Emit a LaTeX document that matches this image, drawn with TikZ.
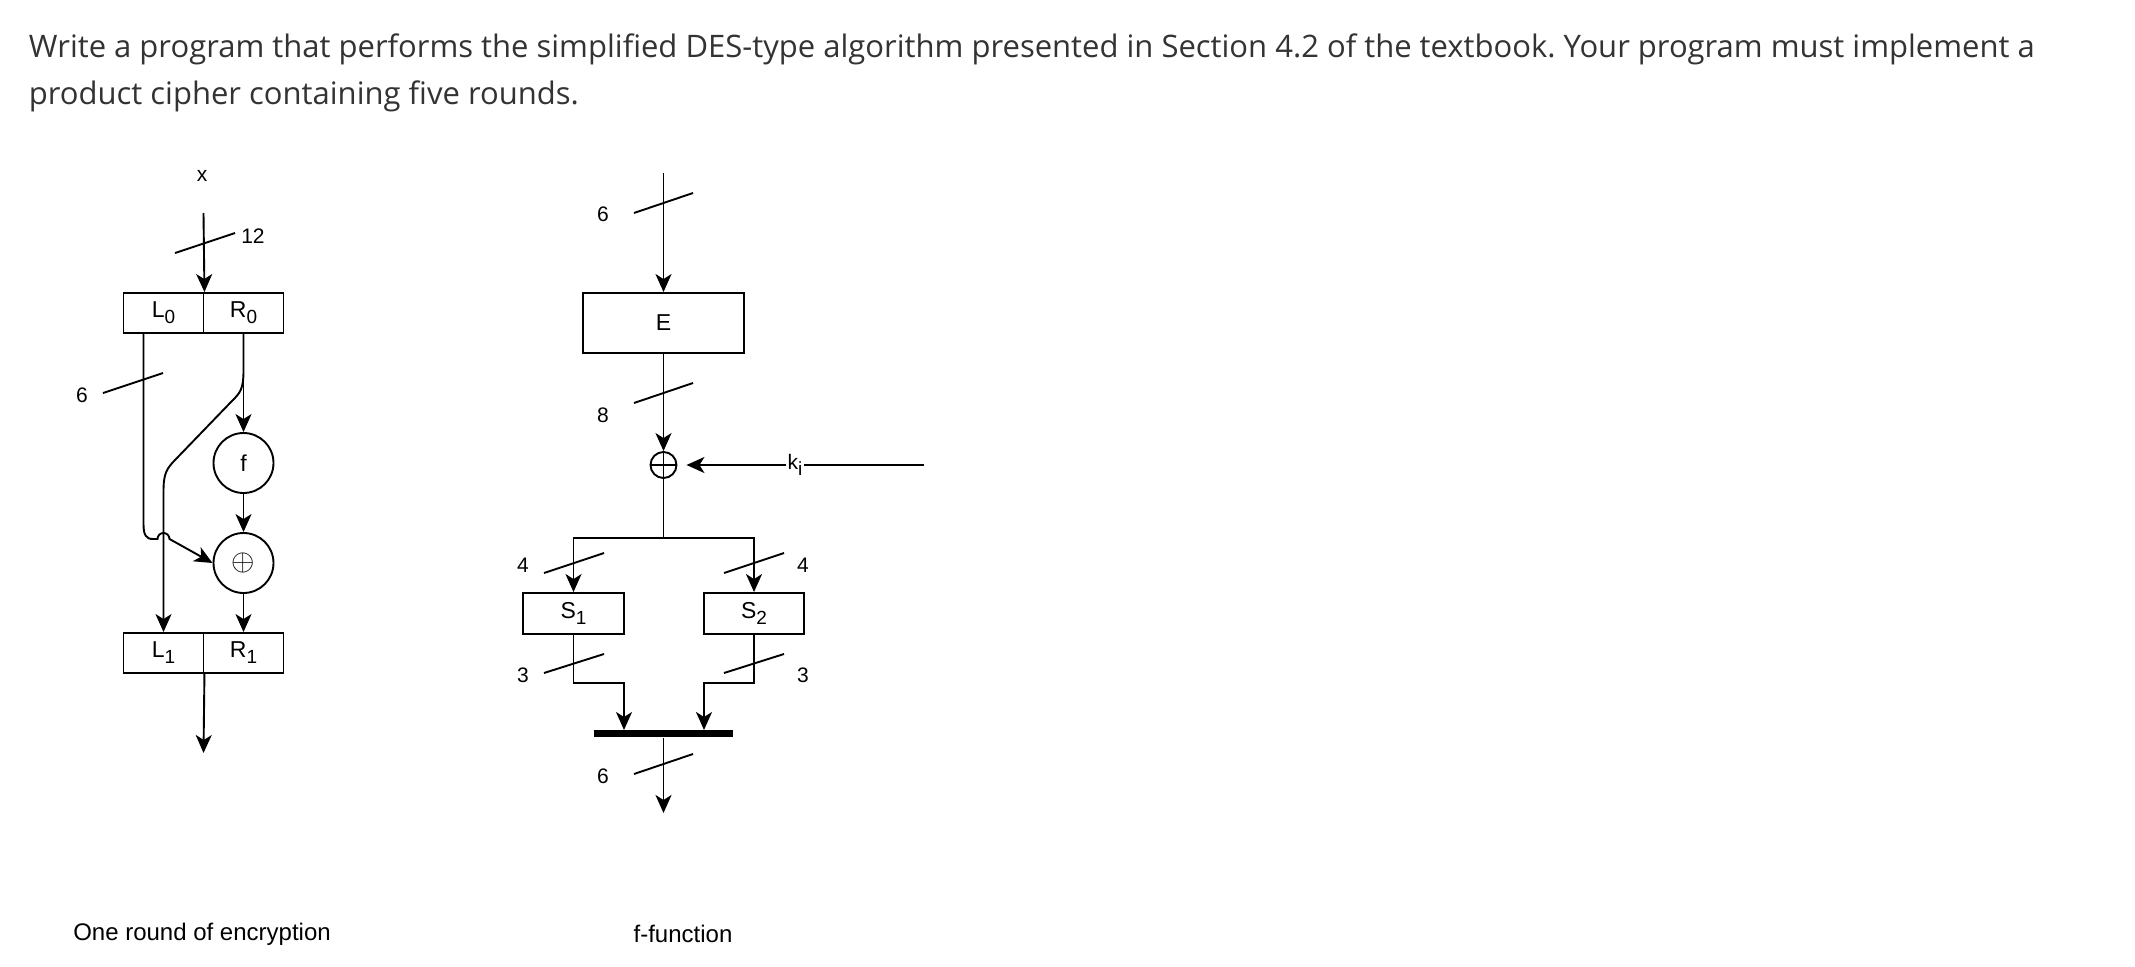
\documentclass[tikz,border=0pt]{standalone}
\usepackage{fontspec}
\setmainfont{Liberation Sans}
\newfontfamily\parafont{Open Sans}
\usetikzlibrary{arrows.meta}
\definecolor{txtgray}{HTML}{333333}
\newcommand\mysub[1]{\raisebox{-6pt}{\fontsize{19}{19}\selectfont #1}}
\frenchspacing
\begin{document}
\begin{tikzpicture}[x=1pt,y=-1pt,line width=1.9pt,
  arr/.style={-{Stealth[length=18pt,width=16pt,inset=5pt]}},
  lbl/.style={font=\fontsize{21}{21}\selectfont,inner sep=0pt},
  para/.style={font=\parafont\fontsize{31}{31}\selectfont,text=txtgray,inner sep=0pt,anchor=base west},
  capt/.style={font=\fontsize{24}{24}\selectfont,inner sep=0pt},
  halfbox/.style={draw,minimum width=80pt,minimum height=40pt,inner sep=0pt,font=\fontsize{23}{23}\selectfont},
  sbox/.style={draw,minimum height=41pt,inner sep=0pt,font=\fontsize{23}{23}\selectfont},
  circ/.style={draw,circle,minimum size=60pt,inner sep=0pt,font=\fontsize{23}{23}\selectfont},
  xorc/.style={draw,circle,minimum size=26pt,inner sep=0pt},
  tickln/.style={line width=1.9pt}]
\useasboundingbox (0,0) rectangle (2135,966);

% paragraph
\node[para] (p1) at (28,58) {Write a program that performs the simplified DES-type algorithm presented in Section 4.2 of the textbook. Your program must implement a};
\node[para] (p2) at (28,104) {product cipher containing five rounds.};

% ---------------- left: one round ----------------
\node[lbl] (xl) at (202,176) {x};
\coordinate (xin) at (203.5,213);
\node[halfbox] (L0) at (163.5,313) {L\mysub{0}};
\node[halfbox] (R0) at (243.5,313) {R\mysub{0}};
\node[circ] (f) at (243.5,463) {f};
\node[circ] (x1) at (243.5,563) {\fontsize{21}{21}\selectfont\scalebox{1.45}{$\oplus$}};
\node[halfbox] (L1) at (163.5,653) {L\mysub{1}};
\node[halfbox] (R1) at (243.5,653) {R\mysub{1}};
\coordinate (out1) at (203.5,753);
\coordinate (lstart) at (143.5,333);

\draw[arr] (xin) -- (L0.north east);
\draw[tickln] (175,253) -- (235,233);
\node[lbl] (n12) at (253,236) {12};

\draw[arr] (R0.south) -- (f.north);
\draw[arr] (f.south) -- (x1.north);
\draw[arr] (x1.south) -- (R1.north);
\draw[arr] (L1.south east) -- (out1);

% R0 -> L1 (swap)
\draw[arr] (R0.south) -- (243.5,370) .. controls (243.5,390) and (240,393) .. (231,402)
  -- (176,459) .. controls (166,469) and (163.5,474) .. (163.5,492) -- (L1.north);

% L0 -> xor (with hop)
\draw[arr] (lstart) -- (143.5,524) .. controls (143.5,535) and (146,539) .. (153,539)
  -- (157.5,539) arc[start angle=180,end angle=360,radius=6] -- (x1.west);

\draw[tickln] (103,393) -- (163,373);
\node[lbl] (n6a) at (82,395) {6};

% ---------------- right: f-function ----------------
\coordinate (fin) at (663.5,173);
\node[sbox,minimum width=161pt,minimum height=60pt] (E) at (663.5,323) {E};
\node[xorc] (x2) at (663.5,465) {};
\draw (x2.north) -- (x2.south) (x2.west) -- (x2.east);
\coordinate (kin) at (924,465);
\coordinate (sp) at (663.5,538);
\node[sbox,minimum width=101pt] (S1) at (573.5,613.5) {S\mysub{1}};
\node[sbox,minimum width=100pt] (S2) at (754,613.5) {S\mysub{2}};
\node[fill=black,minimum width=139pt,minimum height=7pt,inner sep=0pt] (bar) at (663.5,733.5) {};
\coordinate (b1) at (624,730);
\coordinate (b2) at (704,730);
\coordinate (out2) at (663.5,813);

\draw[arr] (fin) -- (E.north);
\draw[tickln] (634,213) -- (693,193);
\node[lbl] (n6b) at (603,214) {6};

\draw[arr] (E.south) -- (x2.north);
\draw[tickln] (634,403) -- (693,383);
\node[lbl] (n8) at (603,415) {8};

\draw[arr,shorten >=9pt] (kin) -- (x2.east);
\node[lbl,fill=white,inner sep=2pt] (ki) at (795,465) {k\mysub{i}};

\draw (x2.south) -- (sp);
\draw[arr] (sp) -| (S1.north);
\draw[arr] (sp) -| (S2.north);
\draw[tickln] (544,573) -- (604,553);
\node[lbl] (n4a) at (523,565) {4};
\draw[tickln] (724,573) -- (784,553);
\node[lbl] (n4b) at (803,565) {4};

\draw[arr] (S1.south) -- (573.5,683) -| (b1);
\draw[arr] (S2.south) -- (754,683) -| (b2);
\draw[tickln] (544,673) -- (604,654);
\node[lbl] (n3a) at (523,675) {3};
\draw[tickln] (724,673) -- (784,654);
\node[lbl] (n3b) at (803,675) {3};

\draw[arr] (bar.south) -- (out2);
\draw[tickln] (634,774) -- (693,754);
\node[lbl] (n6c) at (603,776) {6};

% captions
\node[capt] (c1) at (202,934) {One round of encryption};
\node[capt] (c2) at (683,934) {f-function};
\end{tikzpicture}
\end{document}
